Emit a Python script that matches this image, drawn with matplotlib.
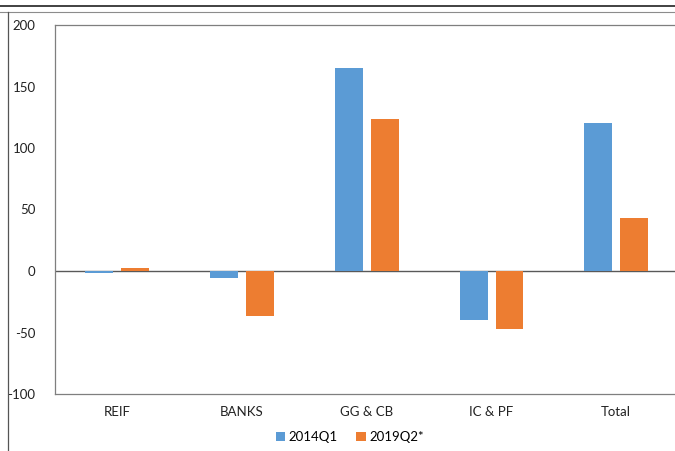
import numpy as np
import matplotlib.pyplot as plt
from matplotlib.lines import Line2D

plt.rcParams['font.family'] = ['Lato', 'DejaVu Sans']

# Sector contributions
categories = ["REIF", "BANKS", "GG & CB", "IC & PF", "Total"]
series_names = ["2014Q1", "2019Q2*"]
q2014 = [-1.5, -5.5, 165, -40, 120]
q2019 = [2.5, -36.5, 123.5, -47, 43]
yticks = [-100, -50, 0, 50, 100, 150, 200]

blue = "#5B9BD5"
orange = "#ED7D31"

fig = plt.figure(figsize=(6.75, 4.51), dpi=100)
ax = fig.add_axes([55 / 675, 57 / 451, 623.6 / 675, 369 / 451])

x = np.arange(len(categories))
w = 0.224
off = 0.144
ax.bar(x - off, q2014, w, color=blue, label=series_names[0], zorder=2)
ax.bar(x + off, q2019, w, color=orange, label=series_names[1], zorder=2)

ax.axhline(0, color="#595959", lw=1.0, zorder=1)

ax.set_xlim(-0.5, len(categories) - 0.5)
ax.set_ylim(-100, 200)
ax.set_yticks(yticks)
ax.set_yticklabels([str(v) for v in yticks])
ax.set_xticks(x)
ax.set_xticklabels(categories)
ax.tick_params(axis="y", length=0, pad=14, labelsize=9.5, colors="#222222")
ax.tick_params(axis="x", length=0, pad=9, labelsize=9.5, colors="#222222")

for side in ["left", "top", "bottom", "right"]:
    ax.spines[side].set_color("#7f7f7f")
    ax.spines[side].set_linewidth(0.9)

ax.legend(loc="center", bbox_to_anchor=(350 / 675, 14 / 451),
          bbox_transform=fig.transFigure, ncol=2, frameon=False,
          fontsize=9.5, handlelength=0.7, handleheight=0.7,
          handletextpad=0.3, columnspacing=1.4)

# frame lines around the chart
fig.add_artist(Line2D([0, 1], [1 - 5.5 / 451] * 2, color="#333333", lw=1.3,
                      transform=fig.transFigure))
fig.add_artist(Line2D([0, 1], [1 - 12 / 451] * 2, color="#8c8c8c", lw=0.8,
                      transform=fig.transFigure))
fig.add_artist(Line2D([8 / 675] * 2, [0, 1 - 12 / 451], color="#555555", lw=0.9,
                      transform=fig.transFigure))

fig.savefig("out.png", dpi=100)
